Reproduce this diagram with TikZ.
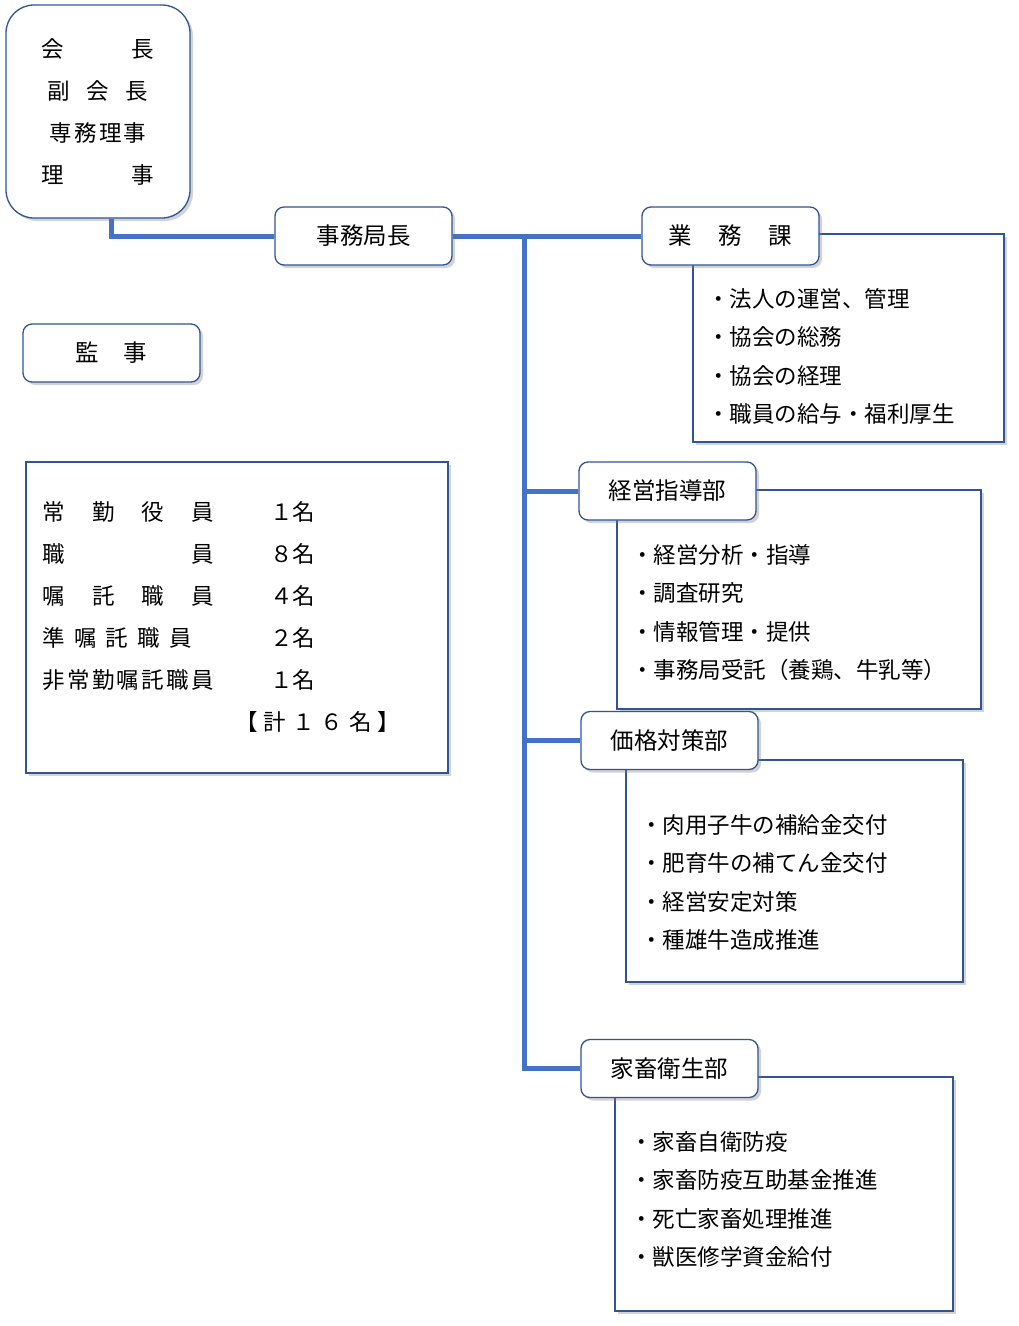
\documentclass[tikz,border=0pt]{standalone}
\usepackage{fontspec}
\setmainfont{Noto Sans CJK JP}
\usetikzlibrary{shadows}
\definecolor{frame}{HTML}{2F5597}
\definecolor{linkblue}{HTML}{4472C4}
\tikzset{
  head/.style={draw=frame,line width=1.3pt,fill=white,rounded corners=9pt,minimum width=177pt,minimum height=58pt,
    drop shadow={shadow xshift=3pt,shadow yshift=-3pt,opacity=.35},font=\fontsize{23.5}{26}\selectfont},
  listbox/.style={draw=frame,line width=1.3pt,fill=white,
    drop shadow={shadow xshift=3pt,shadow yshift=-3pt,opacity=.35}},
  item/.style={anchor=west,inner sep=0pt,font=\fontsize{22.5}{26}\selectfont},
  link/.style={linkblue,line width=5pt}
}
\begin{document}
\begin{tikzpicture}[x=1pt,y=-1pt]
  \useasboundingbox (0,0) rectangle (1019,1326);
  % officers
  \node[head,rounded corners=28pt,minimum width=184pt,minimum height=213pt,align=center,
    font=\fontsize{22.5}{42}\selectfont] (yakuin) at (98,111.5)
    {\makebox[113pt][s]{会\hfill 長}\\ \makebox[101pt][s]{副\hfill 会\hfill 長}\\
     \makebox[97pt][s]{専\hfill 務\hfill 理\hfill 事}\\ \makebox[113pt][s]{理\hfill 事}};
  \node[head] (kyokucho) at (363.5,236) {事務局長};
  \node[head] (kanji) at (111.5,353) {\makebox[72pt][s]{監\hfill 事}};
  % staff
  \draw[listbox] (26,462) rectangle (448,773);
  \foreach \lab/\w/\n [count=\i] in {常\hfill 勤\hfill 役\hfill 員/172/１,職\hfill 員/172/８,
      嘱\hfill 託\hfill 職\hfill 員/172/４,準\hfill 嘱\hfill 託\hfill 職\hfill 員/150/２,
      非\hfill 常\hfill 勤\hfill 嘱\hfill 託\hfill 職\hfill 員/172/１}{
    \node[item] (staff\i) at (42,470+42*\i) {\makebox[\w pt][s]{\lab}};
    \node[item] (count\i) at (270,470+42*\i) {\n 名};
  }
  \node[item] (total) at (235,722) {\makebox[165pt][s]{【\hfill 計\hfill １\hfill ６\hfill 名\hfill 】}};
  % sections
  \draw[listbox] (693,234) rectangle (1004,442);
  \node[head] (gyomu) at (730.5,236) {\makebox[124pt][s]{業\hfill 務\hfill 課}};
  \draw[listbox] (617,490) rectangle (981,709);
  \node[head] (keiei) at (667.5,491) {経営指導部};
  \draw[listbox] (626,760) rectangle (963,982);
  \node[head] (kakaku) at (669.5,740.5) {価格対策部};
  \draw[listbox] (615,1077) rectangle (953,1311);
  \node[head] (eisei) at (669.5,1068.5) {家畜衛生部};
  \foreach \t [count=\i] in {・法人の運営、管理,・協会の総務,・協会の経理,・職員の給与・福利厚生}
    \node[item] (gyomu\i) at (707,260+38.5*\i) {\t};
  \foreach \t [count=\i] in {・経営分析・指導,・調査研究,・情報管理・提供,・事務局受託（養鶏、牛乳等）}
    \node[item] (keiei\i) at (631,516+38.5*\i) {\t};
  \foreach \t [count=\i] in {・肉用子牛の補給金交付,・肥育牛の補てん金交付,・経営安定対策,・種雄牛造成推進}
    \node[item] (kakaku\i) at (640,786+38.5*\i) {\t};
  \foreach \t [count=\i] in {・家畜自衛防疫,・家畜防疫互助基金推進,・死亡家畜処理推進,・獣医修学資金給付}
    \node[item] (eisei\i) at (630,1103+38.5*\i) {\t};
  % connectors
  \coordinate (trunk) at (524,236);
  \draw[link] ([xshift=13pt]yakuin.south) |- (kyokucho.west);
  \draw[link] (kyokucho.east) -- (gyomu.west);
  \draw[link] (trunk) |- (eisei.west);
  \draw[link] (trunk |- keiei.west) -- (keiei.west);
  \draw[link] (trunk |- kakaku.west) -- (kakaku.west);
\end{tikzpicture}
\end{document}
